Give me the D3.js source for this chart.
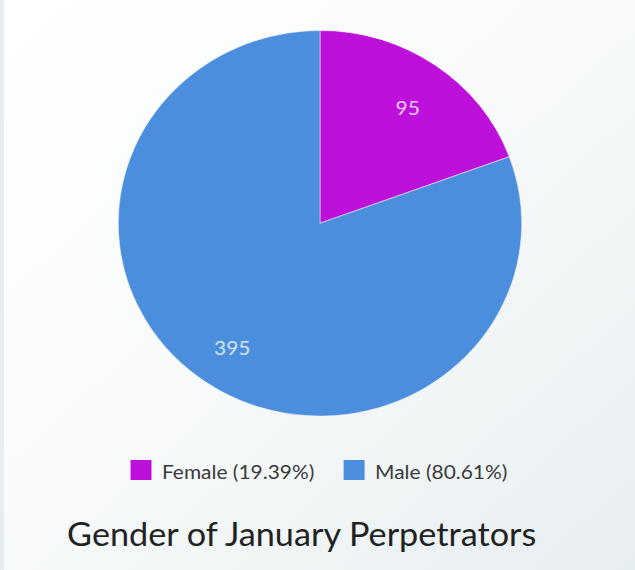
<!DOCTYPE html>
<html>
<head>
<meta charset="utf-8">
<script src="https://cdn.jsdelivr.net/npm/d3@7"></script>
<style>
  html, body { margin: 0; padding: 0; background: #fff; }
  svg { display: block; font-family: Lato, "Open Sans", sans-serif; }
</style>
</head>
<body>
<script>
const categories = ['Female', 'Male'];
const counts     = [95, 395];
const colors     = ['#bd10da', '#4a8edd'];
const title      = 'Gender of January Perpetrators';

const width  = 635;
const height = 570;
const cx = 320;
const cy = 223.3;
const radius  = 192.7;
const stretch = 201.7 / 192.7;   // the picture is a little wider than tall

const data = categories.map((c, i) => ({label: c, value: counts[i], color: colors[i]}));
const total = d3.sum(counts);
const pct = d3.format('.2%');

const svg = d3.select('body').append('svg')
  .attr('width', width)
  .attr('height', height);

const defs = svg.append('defs');
const grad = defs.append('linearGradient')
  .attr('id', 'bg')
  .attr('x1', '0%').attr('y1', '0%')
  .attr('x2', '100%').attr('y2', '100%');
grad.append('stop').attr('offset', '0%').attr('stop-color', '#ffffff');
grad.append('stop').attr('offset', '45%').attr('stop-color', '#f9fbfb');
grad.append('stop').attr('offset', '100%').attr('stop-color', '#e7eef1');

svg.append('rect').attr('width', width).attr('height', height).attr('fill', 'url(#bg)');
svg.append('rect').attr('width', 4).attr('height', height).attr('fill', '#e6ecef');

// everything drawn in a slightly stretched frame, centred on cx
const root = svg.append('g')
  .attr('transform', 'translate(' + cx + ',0) scale(' + stretch + ',1) translate(' + (-cx) + ',0)');

const pie = d3.pie().sort(null).value(d => d.value);
const arc = d3.arc().innerRadius(0).outerRadius(radius);
const labelArc = d3.arc().innerRadius(radius * 0.76).outerRadius(radius * 0.76);

const g = root.append('g').attr('transform', 'translate(' + cx + ',' + cy + ')');

const slices = g.selectAll('.slice')
  .data(pie(data))
  .enter().append('g')
  .attr('class', 'slice');

slices.append('path')
  .attr('d', arc)
  .attr('fill', d => d.data.color)
  .attr('stroke', 'rgba(255,255,255,0.45)')
  .attr('stroke-width', 1);

slices.append('text')
  .attr('transform', d => 'translate(' + labelArc.centroid(d) + ')')
  .attr('dy', '.6em')
  .style('text-anchor', 'middle')
  .style('font-size', '20px')
  .attr('fill', 'rgba(255,255,255,0.78)')
  .text(d => d.data.value);

// legend
const legend = root.append('g');
const items = legend.selectAll('.item')
  .data(data)
  .enter().append('g')
  .attr('class', 'item');

items.append('rect')
  .attr('width', 20).attr('height', 20)
  .attr('y', 460)
  .attr('fill', d => d.color);

items.append('text')
  .attr('x', 30)
  .attr('y', 479)
  .style('font-size', '20px')
  .attr('fill', '#3a3a3a')
  .text(d => d.label + ' (' + pct(d.value / total) + ')');

let x = 0;
const offsets = [];
items.each(function() {
  offsets.push(x);
  x += 30 + this.querySelector('text').getComputedTextLength() + 28;
});
const legendWidth = x - 28;
items.attr('transform', (d, i) => 'translate(' + (cx - 1 - legendWidth / 2 + offsets[i]) + ',0)');

root.append('text')
  .attr('x', 302.5)
  .attr('y', 546.5)
  .style('text-anchor', 'middle')
  .style('font-size', '32.7px')
  .attr('fill', '#222')
  .text(title);
</script>
</body>
</html>
